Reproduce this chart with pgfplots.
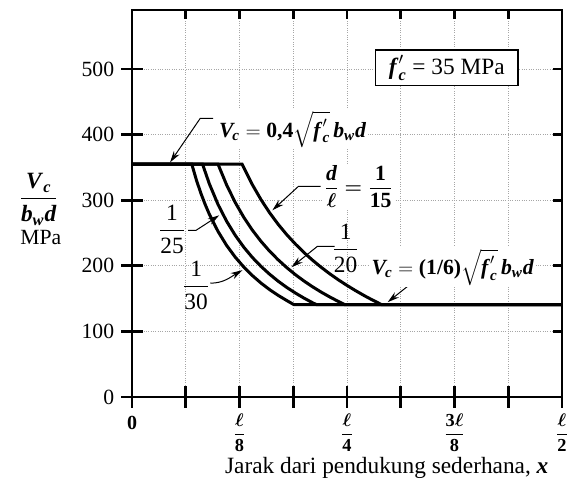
\documentclass[border=0pt,12pt]{standalone}
\usepackage{fontspec}
\setmainfont{Liberation Serif}
\usepackage{amsmath}
\usepackage{pgfplots}
\pgfplotsset{compat=1.18}
\usetikzlibrary{arrows.meta}
\newcommand{\bi}[1]{\textbf{\textit{#1}}}
\newcommand{\bl}{\boldsymbol{\ell}}
\begin{document}
\begin{tikzpicture}
\begin{axis}[
  scale only axis, width=258pt, height=232.2pt,
  xmin=0, xmax=0.5, ymin=0, ymax=590,
  xtick={0,0.0625,0.125,0.1875,0.25,0.3125,0.375,0.4375,0.5},
  xticklabels={\rule{0pt}{9pt}{\fontsize{12}{14}\selectfont\textbf{0}}, {}, $\dfrac{\bl}{\textbf{8}}$, {}, $\dfrac{\bl}{\textbf{4}}$, {}, $\dfrac{\textbf{3}\bl}{\textbf{8}}$, {}, $\dfrac{\bl}{\textbf{2}}$},
  xticklabel style={font=\fontsize{11}{13}\selectfont, yshift=-2.5pt, inner ysep=1pt},
  ytick={0,100,200,300,400,500},
  yticklabel style={font=\fontsize{13}{15}\selectfont},
  tick align=center, major tick length=13pt,
  xtick pos=left, ytick pos=left,
  tick style={line width=1.6pt, black},
  axis line style={line width=1.6pt},
  grid=major, grid style={densely dotted, gray!70, line width=0.5pt},
  /pgf/number format/assume math mode=true,
  clip=false,
]
% plateau + curves
\addplot[line width=1.8pt, line join=miter] coordinates {(0,355) (0.0695,355) (0.075,330.3) (0.08,310.9) (0.085,293.8) (0.09,278.4) (0.10,252.5) (0.11,231.1) (0.12,213.3) (0.13,198.1) (0.14,185.1) (0.15,173.7) (0.16,163.7) (0.17,154.9) (0.18,147.0) (0.188,141) (0.5,141)};
\addplot[line width=1.8pt, line join=miter] coordinates {(0,355) (0.082,355) (0.09,324.8) (0.10,293.6) (0.11,268.0) (0.12,246.6) (0.13,228.4) (0.14,212.7) (0.15,199.1) (0.16,187.2) (0.17,176.5) (0.18,167.0) (0.19,158.5) (0.20,150.75) (0.21,143.7) (0.2142,141) (0.5,141)};
\addplot[line width=1.8pt, line join=miter] coordinates {(0,355) (0.100,355) (0.11,323.4) (0.12,296.6) (0.13,273.9) (0.14,254.3) (0.15,237.3) (0.16,222.3) (0.17,209.1) (0.18,197.2) (0.19,186.5) (0.20,176.8) (0.21,168.0) (0.22,159.9) (0.23,152.5) (0.24,145.6) (0.2472,141) (0.5,141)};
\addplot[line width=1.8pt, line join=miter] coordinates {(0,355) (0.128,355) (0.13,349.6) (0.14,323.6) (0.15,300.9) (0.16,280.9) (0.17,263.2) (0.18,247.4) (0.19,233.2) (0.20,220.2) (0.21,208.5) (0.22,197.7) (0.23,187.8) (0.24,178.6) (0.25,170.1) (0.26,162.1) (0.27,154.6) (0.28,147.6) (0.29,141.0) (0.5,141)};
% leaders
\draw[line width=0.6pt, -{Stealth[length=7pt,width=4pt]}] (axis cs:0.0944,424.7) -- (axis cs:0.0793,424.7) -- (axis cs:0.0443,357.7);
\draw[line width=0.6pt, -{Stealth[length=7pt,width=4pt]}] (axis cs:0.2192,321.2) -- (axis cs:0.1936,321.2) -- (axis cs:0.1632,284.6);
\draw[line width=0.6pt, -{Stealth[length=7pt,width=4pt]}] (axis cs:0.0653,254.2) -- (axis cs:0.0746,254.2) -- (axis cs:0.1014,277);
\draw[line width=0.6pt, -{Stealth[length=7pt,width=4pt]}] (axis cs:0.0910,173.5) to[out=0,in=-150] (axis cs:0.1283,193.3);
\draw[line width=0.6pt, -{Stealth[length=7pt,width=4pt]}] (axis cs:0.2355,229.8) -- (axis cs:0.2157,229.8) -- (axis cs:0.1854,197.9);
\draw[line width=0.6pt, -{Stealth[length=7pt,width=4pt]}] (axis cs:0.3265,175) -- (axis cs:0.2973,144.6);
% labels
\node[anchor=west, fill=white, inner sep=1pt, font=\fontsize{13}{16}\selectfont] at (axis cs:0.099,408) {$\bi{V}_{\!\bi{c}} = \textbf{0,4}\sqrt{\bi{f}'_{\bi{c}}}\,\bi{b}_{\bi{w}}\bi{d}$};
\node[anchor=west, fill=white, inner sep=1pt, font=\fontsize{13}{16}\selectfont] at (axis cs:0.2764,197.9) {$\bi{V}_{\!\bi{c}} = \textbf{(1/6)}\sqrt{\bi{f}'_{\bi{c}}}\,\bi{b}_{\bi{w}}\bi{d}$};
\node[anchor=west, fill=white, inner sep=1pt, font=\fontsize{13}{15}\selectfont] at (axis cs:0.221,321) {$\dfrac{\bi{d}}{\bl}\boldsymbol{=}\dfrac{\textbf{1}}{\textbf{15}}$};
\node[inner sep=1pt, font=\fontsize{14}{16}\selectfont] at (axis cs:0.0466,255.7) {$\dfrac{\text{1}}{\text{25}}$};
\node[inner sep=1pt, font=\fontsize{14}{16}\selectfont] at (axis cs:0.0746,170.5) {$\dfrac{\text{1}}{\text{30}}$};
\node[inner sep=1pt, font=\fontsize{14}{16}\selectfont] at (axis cs:0.2484,226.8) {$\dfrac{\text{1}}{\text{20}}$};
\node[draw, line width=1pt, fill=white, inner xsep=8pt, inner ysep=3pt, font=\fontsize{14}{16}\selectfont] at (axis cs:0.366,502) {$\bi{f}'_{\bi{c}}$ = 35 MPa};
\node[font=\fontsize{14}{16}\selectfont] at (axis cs:-0.1084,301.4) {$\dfrac{\bi{V}_{\bi{c}}}{\bi{b}_{\bi{w}}\bi{d}}$};
\node[font=\fontsize{13}{15}\selectfont] at (axis cs:-0.106,243.5) {MPa};
\node[font=\fontsize{14}{17}\selectfont] at (axis cs:0.2962,-108) {Jarak dari pendukung sederhana, $\bi{x}$};
\end{axis}
\begin{axis}[
  scale only axis, width=258pt, height=232.2pt,
  xmin=0, xmax=0.5, ymin=0, ymax=590,
  axis line style={draw=none},
  xtick={0.0625,0.125,0.1875,0.25,0.3125,0.375,0.4375},
  ytick={100,200,300,400,500},
  xticklabels={}, yticklabels={},
  xtick pos=right, ytick pos=right,
  tick align=inside, major tick length=5.5pt,
  tick style={line width=1.6pt, black},
]
\end{axis}
\pgfresetboundingbox
\path ([shift={(-79.2pt,-52.2pt)}]current axis.south west) rectangle ([shift={(3.6pt,6pt)}]current axis.north east);
\end{tikzpicture}
\end{document}
